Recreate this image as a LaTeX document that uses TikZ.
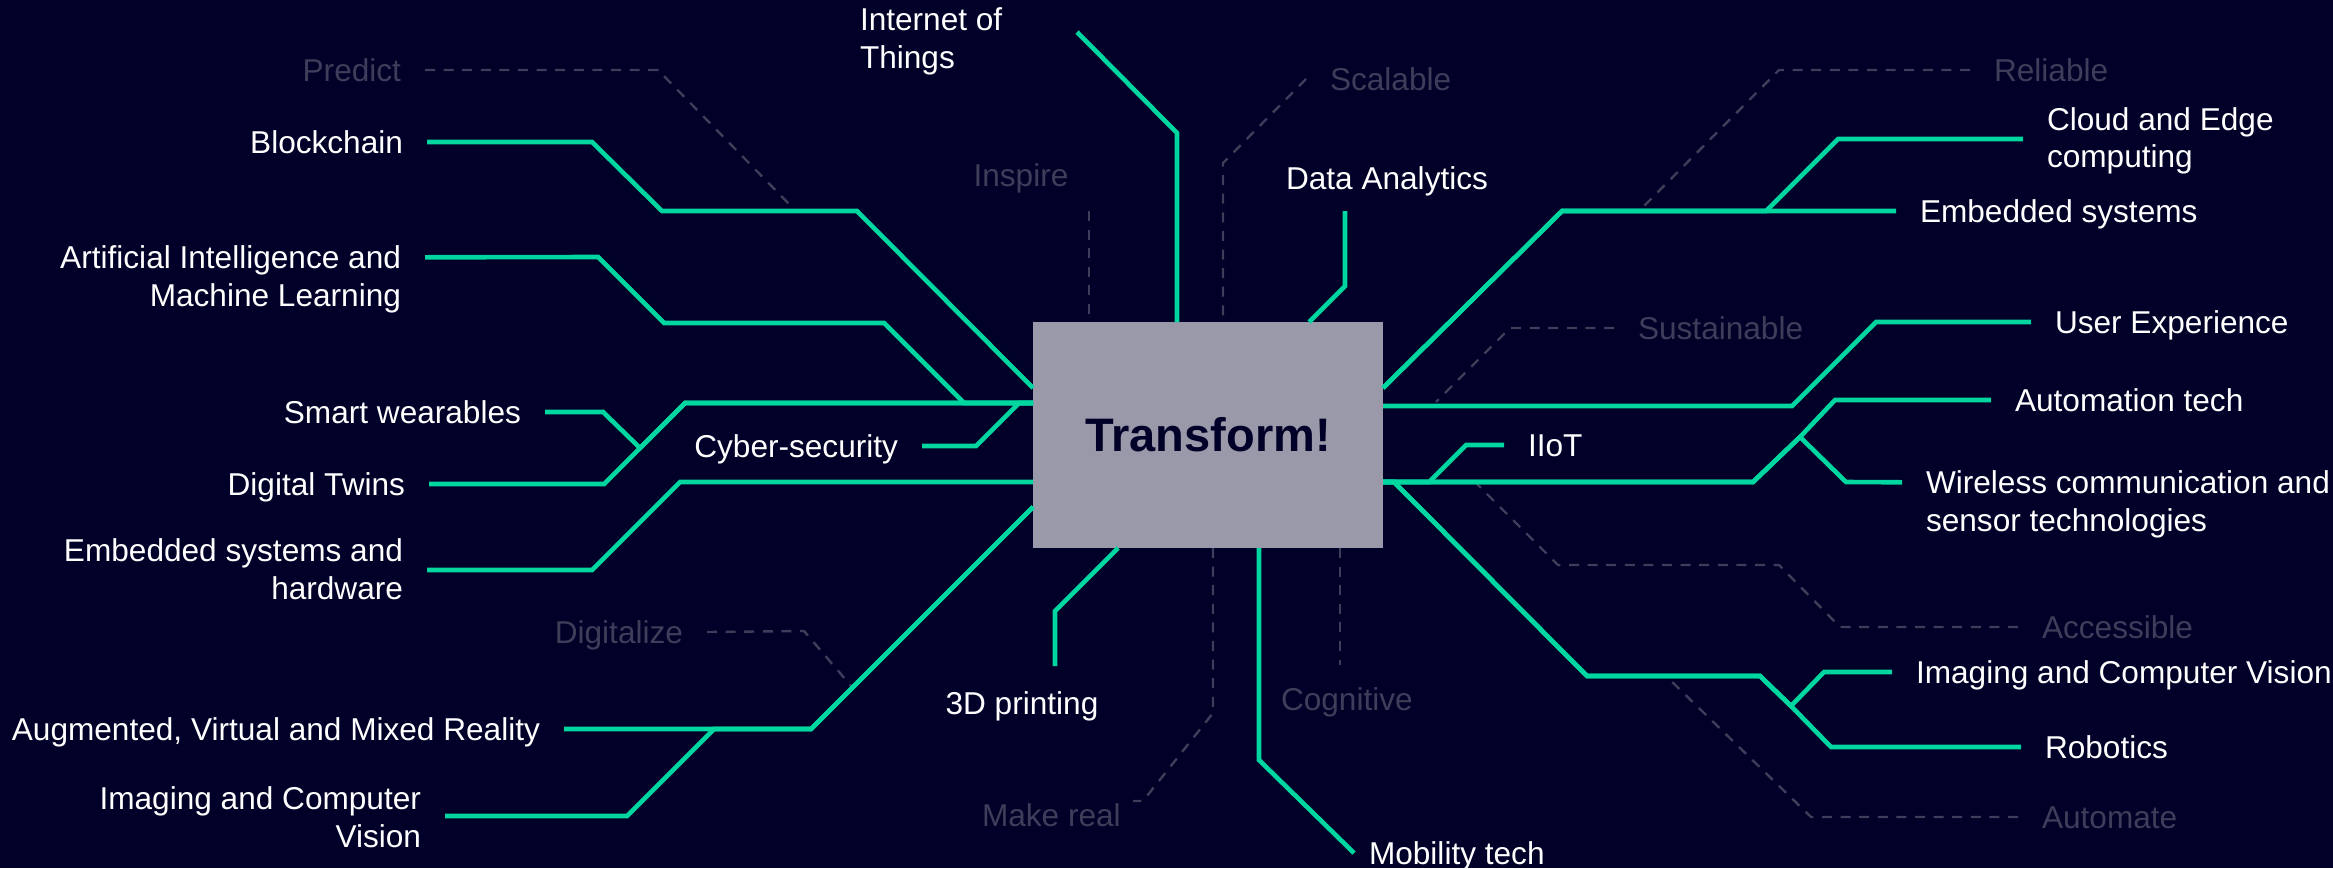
\documentclass[tikz,border=0pt]{standalone}
\usepackage{fontspec}
\setmainfont{Liberation Sans}
\newlength{\du}
\setlength{\du}{0.5pt}
\definecolor{backcolor}{rgb}{0.000000, 0.000000, 0.156863}
\definecolor{linkcolor}{rgb}{0.000000, 0.843137, 0.627451}
\definecolor{hintcolor}{rgb}{0.243137, 0.243137, 0.352941}
\definecolor{hubfillcolor}{rgb}{0.600000, 0.600000, 0.662745}

\begin{document}
\begin{tikzpicture}[x=1\du,y=-1\du,
  link/.style={draw=linkcolor,line width=2.3pt,line join=miter},
  hint/.style={draw=hintcolor,line width=1.2pt,dash pattern=on 5pt off 4.3pt},
  tag/.style={font=\fontsize{15.8}{18.7}\selectfont,text=white,inner sep=0pt,outer xsep=12pt,outer ysep=0pt},
  oneline/.style={text height=11.3pt,text depth=0pt},
  faint/.style={tag,text=hintcolor},
  hub/.style={fill=hubfillcolor,text=backcolor,inner sep=0pt,outer sep=0pt,minimum width=175pt,minimum height=113pt,font=\fontsize{23.5}{28}\selectfont\bfseries}]
\fill[backcolor] (0,0) rectangle (2333,868);
\useasboundingbox (0,0) rectangle (2333,868);

\node[hub] (hub) at (1208,435) {Transform!};

% labels left
\node[tag,oneline,anchor=east] (blk) at (427,142) {Blockchain};
\node[tag,anchor=north east,align=right] (aiml) at (425,246) {Artificial Intelligence and\\Machine Learning};
\node[tag,oneline,anchor=east] (swear) at (545,412) {Smart wearables};
\node[tag,oneline,anchor=east] (twin) at (429,484) {Digital Twins};
\node[tag,anchor=east,align=right] (embhw) at (427,569) {Embedded systems and\\hardware};
\node[tag,oneline,anchor=east] (arvr) at (564,729) {Augmented, Virtual and Mixed Reality};
\node[tag,anchor=east,align=right] (imgl) at (445,817) {Imaging and Computer\\Vision};
\node[tag,oneline,anchor=east] (cyber) at (922,446) {Cyber-security};
% labels top and bottom
\node[tag,anchor=north west,align=left,outer xsep=0pt] (iot) at (860,8) {Internet of\\Things};
\node[tag,anchor=base] (data) at (1387,189) {Data Analytics};
\node[tag,anchor=base] (print) at (1022,714) {3D printing};
\node[tag,oneline,anchor=west,outer xsep=7.5pt] (mob) at (1354,853) {Mobility tech};
% labels right
\node[tag,anchor=west,align=left] (cloud) at (2023,141) {Cloud and Edge\\computing};
\node[tag,oneline,anchor=west] (embs) at (1896,211) {Embedded systems};
\node[tag,oneline,anchor=west] (ux) at (2031,322) {User Experience};
\node[tag,oneline,anchor=west] (auto) at (1991,400) {Automation tech};
\node[tag,oneline,anchor=west] (iiot) at (1504,445) {IIoT};
\node[tag,anchor=north west,align=left] (wless) at (1902,471) {Wireless communication and\\sensor technologies};
\node[tag,oneline,anchor=west] (imgr) at (1892,672) {Imaging and Computer Vision};
\node[tag,oneline,anchor=west] (robo) at (2021,747) {Robotics};
% faint words
\node[faint,oneline,anchor=east] (pred) at (425,70) {Predict};
\node[faint,anchor=base] (insp) at (1021,186) {Inspire};
\node[faint,oneline,anchor=west] (scal) at (1306,79) {Scalable};
\node[faint,oneline,anchor=west] (reli) at (1970,70) {Reliable};
\node[faint,oneline,anchor=west] (sust) at (1614,328) {Sustainable};
\node[faint,oneline,anchor=west] (acc) at (2018,627) {Accessible};
\node[faint,oneline,anchor=west] (autom) at (2018,817) {Automate};
\node[faint,oneline,anchor=east] (digi) at (707,632) {Digitalize};
\node[faint,anchor=base west,outer xsep=0pt] (cogn) at (1281,710) {Cognitive};
\node[faint,anchor=base west,outer xsep=0pt] (mkrl) at (982,826) {Make real};

\coordinate (iottip) at (1077,32);
\coordinate (datatip) at (1345,211);
\coordinate (printtip) at (1055,666);

% was here: dashed hints
\draw[hint] (pred.east) -- (658,70) -- (790,205);
\draw[hint] (1089,211) -- (hub.north -| 1089,0);
\draw[hint] (scal.west) -- (1223,163) -- (hub.north -| 1223,0);
\draw[hint] (reli.west) -- (1779,70) -- (1643,207);
\draw[hint] (sust.west) -- (1510,328) -- (1436,402);
\draw[hint] (acc.west) -- (1840,627) -- (1779,565) -- (1558,565) -- (1477,484);
\draw[hint] (autom.west) -- (1811,817) -- (1667,677);
\draw[hint] (digi.east) -- (804,631) -- (852,687);
\draw[hint] (hub.south -| 1340,0) -- (1340,665);
\draw[hint] (hub.south -| 1213,0) -- (1213,713) -- (1143,801) -- (1133,801);

% left branches
\draw[link] (blk.east) -- (592,142) -- (662,211) -- (857,211) -- (hub.west |- 0,388);
\draw[link] ([yshift=-5.65pt]aiml.north east) -- (598,257) -- (664,323) -- (884,323) -- (964,403) -- (hub.west |- 0,403);
\draw[link] (swear.east) -- (603,412) -- (640,448) -- (685,403) -- (hub.west |- 0,403);
\draw[link] (twin.east) -- (604,484) -- (685,403) -- (hub.west |- 0,403);
\draw[link] (cyber.east) -- (976,446) -- (1019,403) -- (hub.west |- 0,403);
\draw[link] (embhw.east |- 0,570) -- (592,570) -- (680,482) -- (hub.west |- 0,482);
\draw[link] (arvr.east) -- (811,729) -- (hub.west |- 0,507);
\draw[link] (imgl.east |- 0,816) -- (627,816) -- (714,729) -- (811,729) -- (hub.west |- 0,507);
% top and bottom branches
\draw[link] (iottip) -- (1177,133) -- (hub.north -| 1177,0);
\draw[link] (datatip) -- (1345,286) -- (hub.north -| 1309,0);
\draw[link] (printtip) -- (1055,611) -- (hub.south -| 1118,0);
\draw[link] (hub.south -| 1259,0) -- (1259,760) -- (mob.west);
% right branches
\draw[link] (hub.east |- 0,388) -- (1562,211) -- (embs.west);
\draw[link] (hub.east |- 0,388) -- (1562,211) -- (1766,211) -- (1838,139) -- (cloud.west |- 0,139);
\draw[link] (hub.east |- 0,406) -- (1792,406) -- (1876,322) -- (ux.west);
\draw[link] (hub.east |- 0,482) -- (1753,482) -- (1800,437) -- (1835,400) -- (auto.west);
\draw[link] (hub.east |- 0,482) -- (1753,482) -- (1800,437) -- (1846,482) -- ([yshift=-5.65pt]wless.north west);
\draw[link] (hub.east |- 0,482) -- (1429,482) -- (1466,445) -- (iiot.west);
\draw[link] (hub.east |- 0,482) -- (1394,482) -- (1587,676) -- (1760,676) -- (1791,706) -- (1831,747) -- (robo.west);
\draw[link] (hub.east |- 0,482) -- (1394,482) -- (1587,676) -- (1760,676) -- (1791,706) -- (1824,672) -- (imgr.west);
\end{tikzpicture}
\end{document}
